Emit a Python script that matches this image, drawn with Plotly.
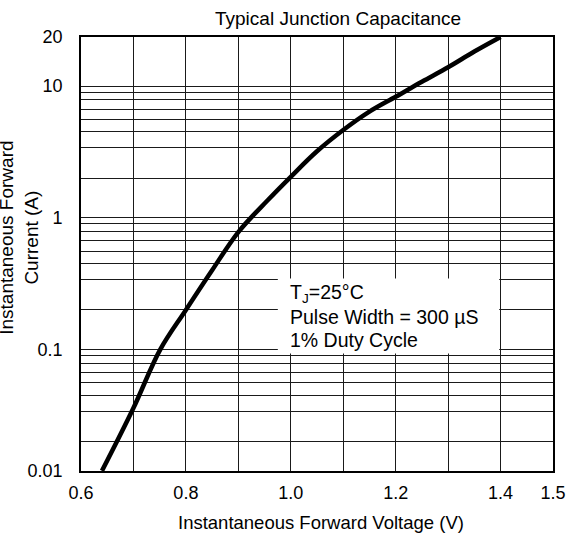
import math
import plotly.graph_objects as go

# ---- data ----
VOLTAGE = [0.64, 0.70, 0.751, 0.80, 0.85, 0.90, 0.956, 1.00, 1.05, 1.10, 1.15, 1.20, 1.25, 1.30, 1.35, 1.40]
CURRENT = [0.012, 0.036, 0.1, 0.2, 0.4, 0.78, 1.36, 2.05, 3.2, 4.64, 6.4, 8.3, 10.8, 13.9, 18.3, 23.6]

X_TICKS = [0.6, 0.8, 1.0, 1.2, 1.4, 1.5]
X_TICK_LABELS = ["0.6", "0.8", "1.0", "1.2", "1.4", "1.5"]
X_GRID = [0.7, 0.9, 1.1, 1.3]

Y_TICKS = [0.01197, 0.1, 1, 10, 23.6]
Y_TICK_LABELS = ["0.01", "0.1", "1", "10", "20"]
DECADES = [0.01, 0.1, 1]
GRID_MULT = [2, 3.4, 4.5, 5.6, 6.7, 7.9, 9]
Y_GRID = [d * m for d in DECADES for m in GRID_MULT]

NOTE_LINES = ["T<sub>J</sub>=25°C", "Pulse Width = 300 µS", "1% Duty Cycle"]

FONT = "Liberation Sans, Arial, sans-serif"

fig = go.Figure()
fig.add_trace(go.Scatter(
    x=VOLTAGE, y=CURRENT, mode="lines",
    line=dict(color="black", width=4.5, shape="spline", smoothing=1.0),
    showlegend=False, hoverinfo="skip",
))

grid_col = "#1a1a1a"
fig.update_xaxes(
    range=[0.6, 1.5], tickvals=X_TICKS, ticktext=X_TICK_LABELS,
    showgrid=True, gridcolor=grid_col, gridwidth=1.3,
    minor=dict(tickvals=X_GRID, showgrid=True, gridcolor=grid_col, gridwidth=1.3, ticks=""),
    showline=True, mirror=True, linecolor="black", linewidth=1.6,
    ticks="", ticklabelstandoff=5, zeroline=False, automargin=False,
    tickfont=dict(family=FONT, size=18, color="black"),
)
fig.update_yaxes(
    type="log", range=[math.log10(Y_TICKS[0]), math.log10(Y_TICKS[-1])],
    tickvals=Y_TICKS, ticktext=Y_TICK_LABELS,
    showgrid=True, gridcolor=grid_col, gridwidth=1.3,
    minor=dict(tickvals=Y_GRID, showgrid=True, gridcolor=grid_col, gridwidth=1.3, ticks=""),
    showline=True, mirror=True, linecolor="black", linewidth=1.6,
    ticks="", ticklabelstandoff=13, zeroline=False, automargin=False,
    tickfont=dict(family=FONT, size=18, color="black"),
)

annotations = [
    dict(text="Typical Junction Capacitance", xref="paper", yref="paper",
         x=0.5445, y=1.043, showarrow=False, xanchor="center", yanchor="middle",
         font=dict(family=FONT, size=19, color="black")),
    dict(text="Instantaneous Forward Voltage (V)", xref="paper", yref="paper",
         x=0.508, y=-0.1197, showarrow=False, xanchor="center", yanchor="middle",
         font=dict(family=FONT, size=18.5, color="black")),
    dict(text="Instantaneous Forward<br>Current (A)", xref="paper", yref="paper",
         x=-0.13, y=0.5365, showarrow=False, xanchor="center", yanchor="middle",
         textangle=-90, font=dict(family=FONT, size=19, color="black")),
]
for txt, yp in zip(NOTE_LINES, [0.409, 0.3553, 0.3016]):
    annotations.append(dict(text=txt, xref="paper", yref="paper", x=0.4386, y=yp,
                            showarrow=False, xanchor="left", yanchor="middle",
                            font=dict(family=FONT, size=19.5, color="black")))

fig.update_layout(
    width=569, height=540, autosize=False,
    margin=dict(l=81, r=16, t=37, b=69, autoexpand=False),
    paper_bgcolor="white", plot_bgcolor="white",
    annotations=annotations,
    shapes=[dict(type="rect", xref="paper", yref="paper",
                 x0=0.417, x1=0.886, y0=0.2706, y1=0.4433,
                 fillcolor="white", line=dict(width=0), layer="above")],
)

fig.write_html("out.html", config={"displayModeBar": False, "responsive": False},
               post_script="document.body.style.margin='0';document.body.style.overflow='hidden';")
